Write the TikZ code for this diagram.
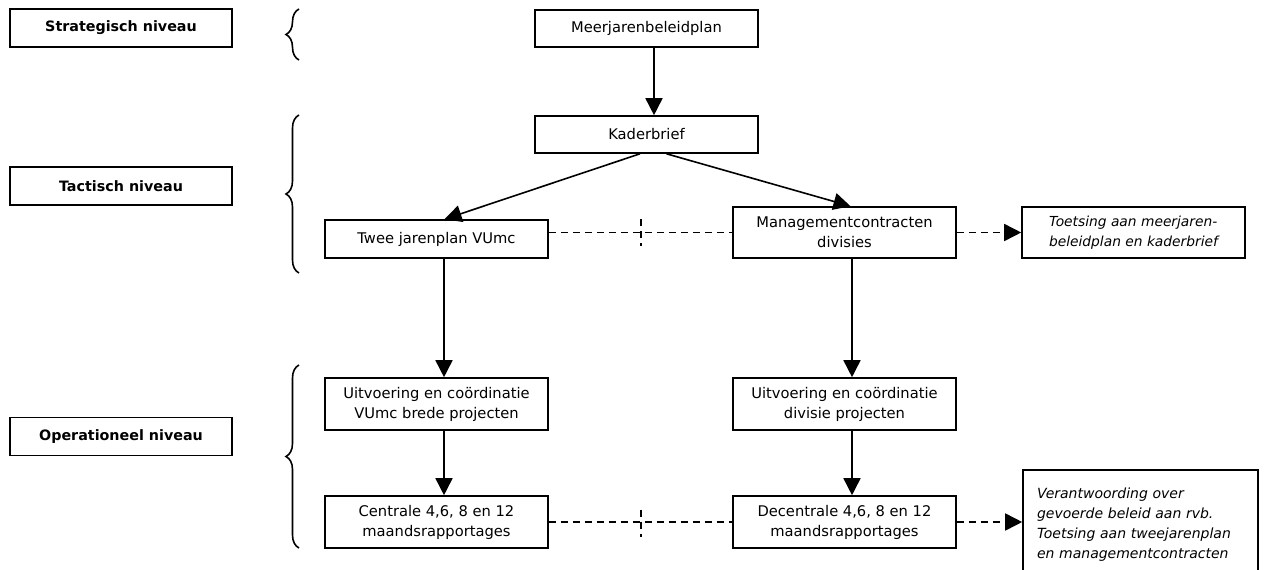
\documentclass[tikz,border=0pt]{standalone}
\usepackage{fontspec}
\setmainfont{DejaVu Sans}
\usetikzlibrary{positioning,arrows.meta,decorations.pathreplacing}

\begin{document}
\begin{tikzpicture}[x=1pt,y=-1pt,line width=1.6pt,
  font=\fontsize{14.7}{20}\selectfont,
  niveau/.style={draw,minimum width=222pt,minimum height=38pt,font=\fontsize{14.3}{20}\selectfont\bfseries},
  blok/.style={draw,minimum width=223pt,align=center,inner sep=2pt},
  toets/.style={draw,align=left,font=\fontsize{13.8}{20}\selectfont\itshape},
  pijl/.style={-{Triangle[length=17pt,width=17pt]}},
  stippel/.style={dash pattern=on 7pt off 5pt},
  accolade/.style={decorate,decoration={brace,amplitude=13pt}}]
\useasboundingbox (0,0) rectangle (1264,570);

\node[niveau](strat) at (121,28){Strategisch niveau};
\node[niveau](tact) at (121,186){Tactisch niveau};
\node[niveau](oper) at (121,436.5){Operationeel niveau};

\draw[accolade] (299,60) -- (299,9);
\draw[accolade] (299,273) -- (299,115);
\draw[accolade] (299,548) -- (299,365);

\node[blok,minimum height=37pt](meer) at (646.5,28.5){Meerjarenbeleidplan};
\node[blok,minimum height=37pt](kader) at (646.5,134.5){Kaderbrief};
\node[blok,minimum height=38pt](twee) at (436.5,239){Twee jarenplan VUmc};
\node[blok,minimum height=51pt](mgmt) at (844.5,232.5){Managementcontracten\\divisies};
\node[toets,minimum width=223pt,minimum height=51pt](toetsing) at (1133.5,232.5){Toetsing aan meerjaren-\\beleidplan en kaderbrief};

\node[blok,minimum height=52pt](uitvl) at (436.5,404){Uitvoering en coördinatie\\VUmc brede projecten};
\node[blok,minimum height=52pt](uitvr) at (844.5,404){Uitvoering en coördinatie\\divisie projecten};
\node[blok,minimum height=52pt](centr) at (436.5,522){Centrale 4,6, 8 en 12\\maandsrapportages};
\node[blok,minimum height=52pt](decentr) at (844.5,522){Decentrale 4,6, 8 en 12\\maandsrapportages};
\node[toets,font=\fontsize{14}{20}\selectfont\itshape,minimum width=235pt,minimum height=110pt,text width=207pt,inner xsep=14pt](verant) at (1140.5,525){Verantwoording over\\gevoerde beleid aan rvb.\\Toetsing aan tweejarenplan\\en managementcontracten};

\path ([xshift=7.5pt]meer.south) edge[pijl] ([xshift=7.5pt]kader.north);
\path ([xshift=-6.5pt]kader.south) edge[pijl] ([xshift=8pt]twee.north);
\path ([xshift=20pt]kader.south) edge[pijl] ([xshift=6pt]mgmt.north);
\path ([xshift=7.5pt]twee.south) edge[pijl] ([xshift=7.5pt]uitvl.north);
\path ([xshift=7.5pt]mgmt.south) edge[pijl] ([xshift=7.5pt]uitvr.north);
\path ([xshift=7.5pt]uitvl.south) edge[pijl] ([xshift=7.5pt]centr.north);
\path ([xshift=7.5pt]uitvr.south) edge[pijl] ([xshift=7.5pt]decentr.north);

\coordinate (kruis1) at (641,232.5);
\coordinate (kruis2) at (641,523);
\path (twee.east |- mgmt.west) edge[stippel] (mgmt.west);
\path (centr.east) edge[stippel] (decentr.west);
\draw[stippel] ([yshift=13.5pt]kruis1) -- ([yshift=-13.5pt]kruis1);
\draw[stippel] ([yshift=13.5pt]kruis2) -- ([yshift=-13.5pt]kruis2);
\path (mgmt.east) edge[stippel,pijl] (toetsing.west);
\path (decentr.east) edge[stippel,pijl] (verant.west |- decentr.east);

\end{tikzpicture}
\end{document}
